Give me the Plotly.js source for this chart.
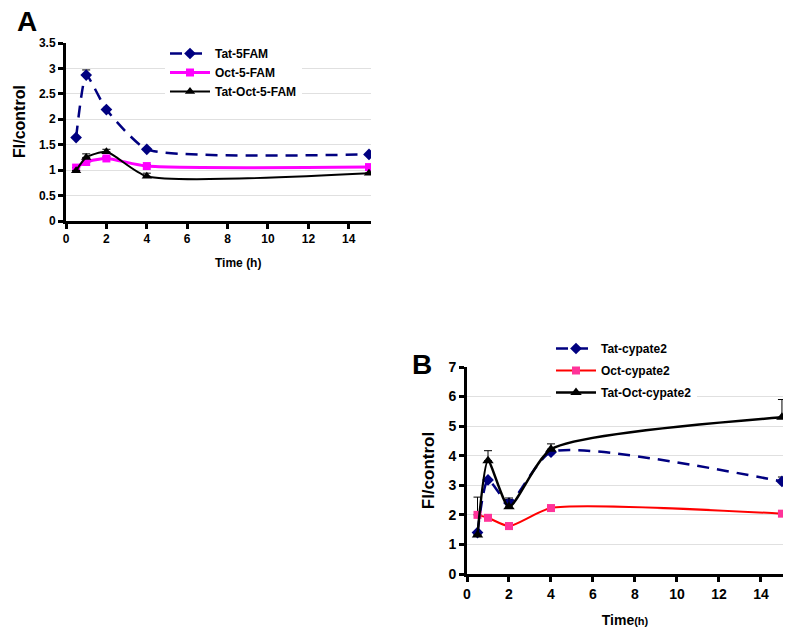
<!DOCTYPE html>
<html>
<head>
<meta charset="utf-8">
<script src="https://cdn.plot.ly/plotly-3.0.1.min.js"></script>
<style>html,body{margin:0;padding:0;background:#fff}#chart{width:800px;height:637px}</style>
</head>
<body>
<div id="chart"></div>
<script>
// ---------- data ----------
var timeA = [0.5, 1, 2, 4, 15];
var tat5FAM = [1.64, 2.87, 2.19, 1.41, 1.31];
var tat5FAMErr = [0, 0.1, 0, 0, 0];
var oct5FAM = [1.05, 1.16, 1.23, 1.08, 1.06];
var oct5FAMErr = [0, 0, 0.03, 0.03, 0];
var tatOct5FAM = [0.99, 1.25, 1.36, 0.88, 0.94];
var tatOct5FAMErr = [0, 0.07, 0.05, 0.06, 0];

var timeB = [0.5, 1, 2, 4, 15];
var tatCyp = [1.4, 3.18, 2.4, 4.12, 3.13];
var tatCypErr = [0, 0, 0.12, 0, 0.15];
var octCyp = [2.0, 1.9, 1.62, 2.23, 2.04];
var octCypErr = [0.6, 0, 0.1, 0.05, 0.05];
var tatOctCyp = [1.32, 3.83, 2.27, 4.22, 5.3];
var tatOctCypErr = [0, 0.34, 0.3, 0.18, 0.6];

var namesA = ['Tat-5FAM', 'Oct-5-FAM', 'Tat-Oct-5-FAM'];
var namesB = ['Tat-cypate2', 'Oct-cypate2', 'Tat-Oct-cypate2'];

var FONT = 'Liberation Sans, Arial, sans-serif';
var NAVY = '#000080';
var SM = 0.6;

function err(arr) {
  return {type: 'data', symmetric: false, array: arr, arrayminus: arr.map(function(){return 0;}),
          color: '#000', thickness: 1, width: 4};
}

var traces = [
  {x: timeA, y: tat5FAM, name: namesA[0], mode: 'lines+markers', xaxis: 'x', yaxis: 'y', legend: 'legend',
   line: {color: NAVY, width: 2.5, dash: '12px,8px', shape: 'spline', smoothing: 0.5},
   marker: {symbol: 'diamond', size: 9, color: NAVY}, error_y: err(tat5FAMErr)},
  {x: timeA, y: oct5FAM, name: namesA[1], mode: 'lines+markers', xaxis: 'x', yaxis: 'y', legend: 'legend',
   line: {color: '#FF00FF', width: 3, shape: 'spline', smoothing: SM},
   marker: {symbol: 'square', size: 8, color: '#FF00FF'}, error_y: err(oct5FAMErr)},
  {x: timeA, y: tatOct5FAM, name: namesA[2], mode: 'lines+markers', xaxis: 'x', yaxis: 'y', legend: 'legend',
   line: {color: '#000', width: 2, shape: 'spline', smoothing: SM},
   marker: {symbol: 'triangle-up', size: 9, color: '#000'}, error_y: err(tatOct5FAMErr)},

  {x: timeB, y: tatCyp, name: namesB[0], mode: 'lines+markers', xaxis: 'x2', yaxis: 'y2', legend: 'legend2', legendgroup: 'b1',
   line: {color: NAVY, width: 2.5, dash: '12px,8px', shape: 'spline', smoothing: SM},
   marker: {symbol: 'diamond', size: 9, color: NAVY}, error_y: err(tatCypErr)},
  {x: timeB, y: octCyp, name: namesB[1], mode: 'lines+markers', xaxis: 'x2', yaxis: 'y2', legend: 'legend2', legendgroup: 'b2',
   line: {color: '#FF0000', width: 2, shape: 'spline', smoothing: SM},
   marker: {symbol: 'square', size: 8, color: '#FF3399'}, error_y: err(octCypErr)},
  {x: timeB, y: tatOctCyp, name: namesB[2], mode: 'lines+markers', xaxis: 'x2', yaxis: 'y2', legend: 'legend2', legendgroup: 'b3',
   line: {color: '#000', width: 2.5, shape: 'spline', smoothing: SM},
   marker: {symbol: 'triangle-up', size: 10, color: '#000'}, error_y: err(tatOctCypErr)}
];

function xax(domain, range, fs, anchor) {
  return {domain: domain, range: range, anchor: anchor, dtick: 2, tick0: 0,
    showline: true, linecolor: '#000', linewidth: 3, ticks: 'outside', ticklen: 5, tickwidth: 3, tickcolor: '#000',
    showgrid: false, zeroline: false, tickfont: {family: FONT, size: fs, color: '#000', weight: 'bold'}};
}
function yax(domain, range, dt, fs, anchor) {
  return {domain: domain, range: range, anchor: anchor, dtick: dt, tick0: 0,
    showline: true, linecolor: '#000', linewidth: 3, ticks: 'outside', ticklen: 5, tickwidth: 3, tickcolor: '#000',
    showgrid: true, gridcolor: '#e0e0e0', gridwidth: 1, zeroline: false,
    tickfont: {family: FONT, size: fs, color: '#000', weight: 'bold'}};
}

var xa = xax([66/800, 371/800], [0, 15.1], 12, 'y');
var ya = yax([1 - 221/637, 1 - 43/637], [0, 3.5], 0.5, 12, 'x');
var xb = xax([467/800, 783/800], [0, 15.05], 14, 'y2');
xb.title = {text: 'Time<span style="font-size:11px">(h)</span>', font: {family: FONT, size: 14, color: '#000', weight: 'bold'}, standoff: 15};
var yb = yax([1 - 574/637, 1 - 367/637], [0, 7], 1, 14, 'x2');
yb.title = {text: 'Fl/control', font: {family: FONT, size: 17, color: '#000', weight: 'bold'}, standoff: 10};

var layout = {
  width: 800, height: 637,
  margin: {l: 0, r: 0, t: 0, b: 0},
  paper_bgcolor: '#fff', plot_bgcolor: 'rgba(0,0,0,0)',
  showlegend: true,
  xaxis: xa, yaxis: ya, xaxis2: xb, yaxis2: yb,
  legend: {x: 165/800, y: 1 - 39/637, xanchor: 'left', yanchor: 'top', bgcolor: '#fff', borderwidth: 0,
    font: {family: FONT, size: 12, color: '#000', weight: 'bold'}, tracegroupgap: 0, itemwidth: 40},
  legend2: {x: 551/800, y: 1 - 334/637, xanchor: 'left', yanchor: 'top', bgcolor: '#fff', borderwidth: 0,
    traceorder: 'grouped', tracegroupgap: 3,
    font: {family: FONT, size: 12, color: '#000', weight: 'bold'}, itemwidth: 40},
  annotations: [
    {text: 'A', x: 15/800, y: 1 - 4/637, xref: 'paper', yref: 'paper', xanchor: 'left', yanchor: 'top', showarrow: false,
     font: {family: FONT, size: 28, color: '#000', weight: 'bold'}},
    {text: 'B', x: 410/800, y: 1 - 347/637, xref: 'paper', yref: 'paper', xanchor: 'left', yanchor: 'top', showarrow: false,
     font: {family: FONT, size: 28, color: '#000', weight: 'bold'}},
    {text: 'Fl/control', x: 19/800, y: 1 - 122/637, xref: 'paper', yref: 'paper', xanchor: 'center', yanchor: 'middle',
     textangle: -90, showarrow: false, font: {family: FONT, size: 16, color: '#000', weight: 'bold'}},
    {text: 'Time (h)', x: 238/800, y: 1 - 263/637, xref: 'paper', yref: 'paper', xanchor: 'center', yanchor: 'middle',
     showarrow: false, font: {family: FONT, size: 12, color: '#000', weight: 'bold'}}
  ]
};

Plotly.newPlot('chart', traces, layout, {displayModeBar: false, staticPlot: true});
</script>
</body>
</html>
